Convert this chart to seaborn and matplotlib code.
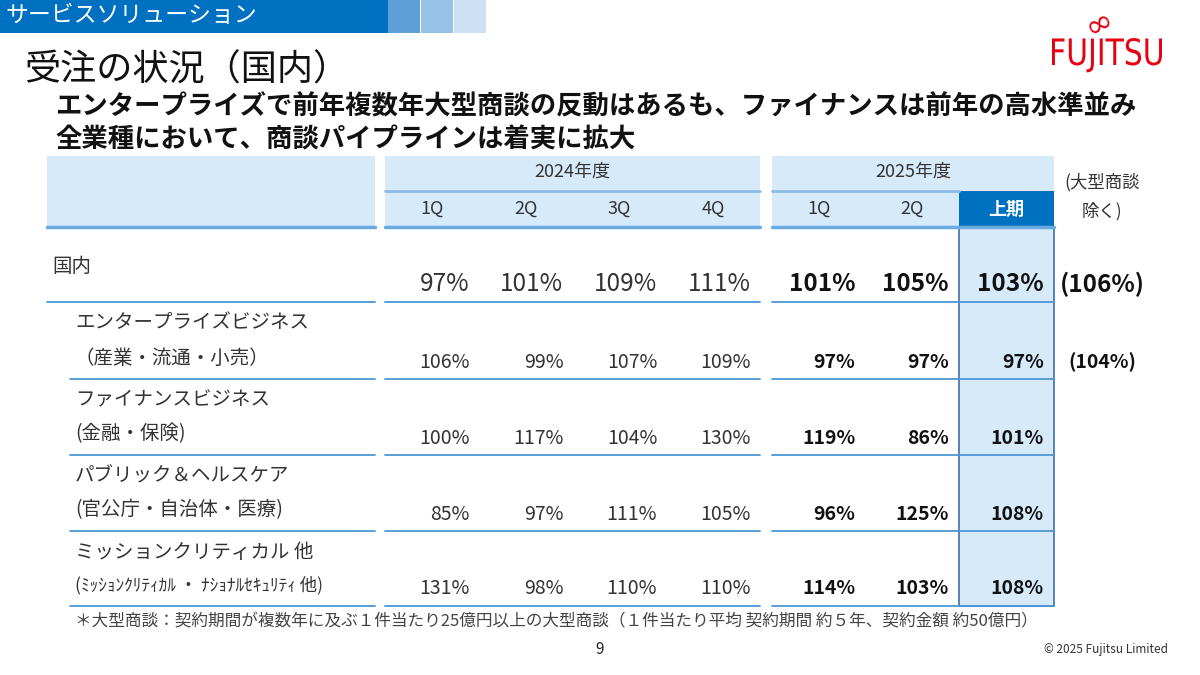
import matplotlib
matplotlib.use("Agg")
import matplotlib.pyplot as plt
from matplotlib.patches import Rectangle, PathPatch
from matplotlib.textpath import TextPath
from matplotlib.font_manager import FontProperties
from matplotlib.transforms import Affine2D
import seaborn as sns

# --- table content ---
segments = ["国内", "エンタープライズビジネス", "ファイナンスビジネス",
            "パブリック＆ヘルスケア", "ミッションクリティカル 他"]
segment_notes = ["", "（産業・流通・小売）", "(金融・保険)",
                 "(官公庁・自治体・医療)", "(ﾐｯｼｮﾝｸﾘﾃｨｶﾙ ・ ﾅｼｮﾅﾙｾｷｭﾘﾃｨ 他)"]
fy2024_cols = ["1Q", "2Q", "3Q", "4Q"]
fy2025_cols = ["1Q", "2Q", "上期"]
fy2024 = [[97, 101, 109, 111],
          [106, 99, 107, 109],
          [100, 117, 104, 130],
          [85, 97, 111, 105],
          [131, 98, 110, 110]]
fy2025 = [[101, 105, 103],
          [97, 97, 97],
          [119, 86, 101],
          [96, 125, 108],
          [114, 103, 108]]
excl_large = [106, 104, None, None, None]

title = "受注の状況（国内）"
subtitle = ["エンタープライズで前年複数年大型商談の反動はあるも、ファイナンスは前年の高水準並み",
            "全業種において、商談パイプラインは着実に拡大"]
footnote = "＊大型商談：契約期間が複数年に及ぶ１件当たり25億円以上の大型商談（１件当たり平均 契約期間 約５年、契約金額 約50億円）"

# --- style ---
sns.set_theme(style="white")
plt.rcParams["font.family"] = ["Noto Sans CJK JP", "DejaVu Sans"]

BLUE = "#0070C0"
PALE = "#D6EAF9"
LINE = "#4C97D6"
TXT = "#333333"
RED = "#E60012"

fig = plt.figure(figsize=(12, 6.75), dpi=100)
ax = fig.add_axes([0, 0, 1, 1])
ax.set_xlim(0, 1200)
ax.set_ylim(675, 0)
ax.axis("off")

# banner
ax.add_patch(Rectangle((0, 0), 388, 33, color=BLUE, lw=0))
for x0, c in zip([388, 421, 454], ["#5DA0D7", "#98C3E8", "#CCE2F4"]):
    ax.add_patch(Rectangle((x0, 0), 32, 33, color=c, lw=0))
ax.text(5, 16, "サービスソリューション", color="white", fontsize=16.5, va="center")

# logo: condensed word mark squeezed into its box
tp = TextPath((0, 0), "FUJITSU", size=1, prop=FontProperties(family="DejaVu Sans"))
bb = tp.get_extents()
sx, sy = 110 / bb.width, 27 / bb.y1
logo_tf = Affine2D().scale(sx, -sy).translate(1052 - bb.x0 * sx, 65) + ax.transData
ax.add_patch(PathPatch(tp, facecolor=RED, lw=0, transform=logo_tf))
ax.text(1099, 23, "∞", color=RED, fontsize=24, ha="center", va="center", rotation=28,
        family="DejaVu Sans")

# titles
ax.text(24, 71, title, fontsize=26, va="center", color="#111111")
ax.text(55, 107, subtitle[0], fontsize=19, fontweight="bold", va="center", color="#111111")
ax.text(55, 140, subtitle[1], fontsize=19, fontweight="bold", va="center", color="#111111")

# geometry
row_edges = [227, 302, 379, 455, 531, 606]
c24 = [385, 478.75, 572.5, 666.25, 760]
c25 = [772, 865.5, 959, 1054]
label_x0, label_x1 = 47, 375

# header backgrounds
ax.add_patch(Rectangle((label_x0, 156), label_x1 - label_x0, 71, color=PALE, lw=0))
ax.add_patch(Rectangle((c24[0], 156), c24[-1] - c24[0], 71, color=PALE, lw=0))
ax.add_patch(Rectangle((c25[0], 156), c25[-1] - c25[0], 71, color=PALE, lw=0))
ax.add_patch(Rectangle((c25[2], 191), c25[3] - c25[2], 36, color=BLUE, lw=0))

# highlighted half-year column
ax.add_patch(Rectangle((c25[2], row_edges[0]), c25[3] - c25[2], row_edges[-1] - row_edges[0],
                       facecolor=PALE, edgecolor="#3F6FA8", lw=1.2, zorder=1))

# header texts and lines
ax.text((c24[0] + c24[-1]) / 2, 172, "2024年度", fontsize=13, ha="center", va="center", color=TXT)
ax.text((c25[0] + c25[-1]) / 2, 172, "2025年度", fontsize=13, ha="center", va="center", color=TXT)
ax.plot([c24[0], c24[-1]], [191, 191], color="#8DBDE6", lw=2)
ax.plot([c25[0], c25[2]], [191, 191], color="#8DBDE6", lw=2)
for i, q in enumerate(fy2024_cols):
    ax.text((c24[i] + c24[i + 1]) / 2, 209, q, fontsize=13, ha="center", va="center", color=TXT)
for i, q in enumerate(fy2025_cols):
    hl = q == "上期"
    ax.text((c25[i] + c25[i + 1]) / 2, 209, q, fontsize=13, ha="center", va="center",
            color="white" if hl else TXT, fontweight="bold" if hl else "normal")
for xs in [(label_x0, label_x1), (c24[0], c24[-1]), (c25[0], c25[-1])]:
    ax.plot(xs, [227, 227], color="#6AAAE0", lw=2.5, zorder=3)

ax.text(1102, 182, "(大型商談", fontsize=12.5, ha="center", va="center", color=TXT)
ax.text(1102, 211, "除く)", fontsize=12.5, ha="center", va="center", color=TXT)

# body rows
for r, seg in enumerate(segments):
    top, bot = row_edges[r], row_edges[r + 1]
    first = r == 0
    if first:
        ax.text(52, top + 39, seg, fontsize=14, va="center", color=TXT)
        vy, fs = bot - 18, 17.5
    else:
        ax.text(75, top + 21, seg, fontsize=14, va="center", color=TXT)
        ax.text(75, bot - 21, segment_notes[r], fontsize=14 if r < 4 else 12.5,
                va="center", color=TXT)
        vy, fs = bot - 17, 14
    for i, v in enumerate(fy2024[r]):
        ax.text(c24[i + 1] - 9, vy, f"{v}%", fontsize=fs, ha="right", va="center", color=TXT, zorder=4)
    for i, v in enumerate(fy2025[r]):
        ax.text(c25[i + 1] - 10, vy, f"{v}%", fontsize=fs, ha="right", va="center",
                fontweight="bold", color="#111111", zorder=4)
    if excl_large[r] is not None:
        ax.text(1102, vy, f"({excl_large[r]}%)", fontsize=fs, ha="center", va="center",
                fontweight="bold", color="#111111")
    lx0 = label_x0 if first else 70
    for xs in [(lx0, label_x1), (c24[0], c24[-1]), (c25[0], c25[-1])]:
        ax.plot(xs, [bot, bot], color=LINE, lw=1.3, zorder=3)

# footer
ax.text(75, 622, footnote, fontsize=12, va="center", color="#444444")
ax.text(600, 649, "9", fontsize=11, ha="center", va="center", color="#222222")
ax.text(1168, 649, "© 2025 Fujitsu Limited", fontsize=8.5, ha="right", va="center", color="#333333")

fig.savefig("out.png", dpi=100, facecolor="white")
